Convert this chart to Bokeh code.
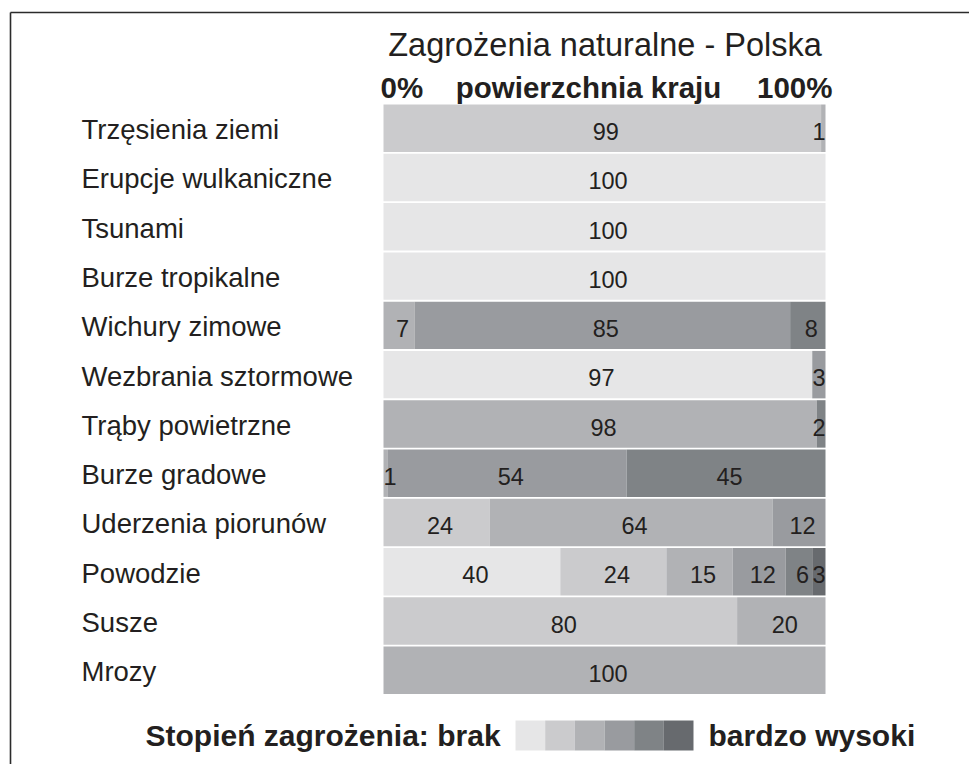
from bokeh.plotting import figure
from bokeh.models import ColumnDataSource, Range1d
from bokeh.core.properties import value
from bokeh.embed import file_html
from bokeh.resources import INLINE

# ---------------- data ----------------
hazards = ["Trzęsienia ziemi", "Erupcje wulkaniczne", "Tsunami", "Burze tropikalne",
           "Wichury zimowe", "Wezbrania sztormowe", "Trąby powietrzne", "Burze gradowe",
           "Uderzenia piorunów", "Powodzie", "Susze", "Mrozy"]
# share of country area (%) per threat level: 0 = none ... 5 = very high
level0 = [0, 100, 100, 100, 0, 97, 0, 0, 0, 40, 0, 0]
level1 = [99, 0, 0, 0, 0, 0, 0, 0, 24, 24, 80, 0]
level2 = [1, 0, 0, 0, 7, 0, 98, 1, 64, 15, 20, 100]
level3 = [0, 0, 0, 0, 85, 3, 0, 54, 12, 12, 0, 0]
level4 = [0, 0, 0, 0, 8, 0, 2, 45, 0, 6, 0, 0]
level5 = [0, 0, 0, 0, 0, 0, 0, 0, 0, 3, 0, 0]
levels = [level0, level1, level2, level3, level4, level5]
level_names = ["l0", "l1", "l2", "l3", "l4", "l5"]
colors = ["#e6e6e7", "#cbcbcd", "#b1b2b5", "#999b9f", "#7f8386", "#676a6e"]

title_text = "Zagrożenia naturalne - Polska"
axis_left, axis_mid, axis_right = "0%", "powierzchnia kraju", "100%"
legend_left, legend_right = "Stopień zagrożenia: brak", "bardzo wysoki"

# ---------------- layout ----------------
W, H = 969, 764
OFF = 0                        # figure origin on the page
X0, X100 = 383.0, 825.0        # page x of 0% and 100%
SX = (X100 - X0) / 100.0
ROW0, PITCH = 127.8, 49.27     # page y of first row centre, row pitch
x_start = -(X0 - OFF) / SX
x_end = x_start + W / SX
y_top = -(ROW0 - OFF) / PITCH
y_bot = y_top + H / PITCH
K = 0.33                       # baseline correction (fraction of font size)


def fx(px):
    return x_start + (px - OFF) / SX


def fy(py):
    return y_top + (py - OFF) / PITCH


def base(py, size):
    """page y of wanted baseline -> data y"""
    return fy(py - K * size)


FONT = value("Liberation Sans")
TXT = "#231f20"

p = figure(width=W, height=H, output_backend="svg", toolbar_location=None,
           x_range=Range1d(x_start, x_end), y_range=Range1d(y_bot, y_top),
           min_border=0, background_fill_color="white", border_fill_color="white")
p.axis.visible = False
p.grid.visible = False
p.outline_line_color = None

ys = list(range(len(hazards)))
data = {"y": ys}
for n, lv in zip(level_names, levels):
    data[n] = lv
src = ColumnDataSource(data)
p.hbar_stack(level_names, y="y", height=0.963, color=colors, line_color=None, source=src)

# segment labels
NUM_SIZE = 23.5
cx, cy, ct = [], [], []
rx, ry, rt = [], [], []
lx, ly, lt = [], [], []
num_off = (11.0 - K * NUM_SIZE) / PITCH
for i in ys:
    vals = [lv[i] for lv in levels]
    nz = [k for k, v in enumerate(vals) if v > 0]
    cum = 0
    for k, v in enumerate(vals):
        if v > 0:
            if v < 4 and k == nz[-1] and len(nz) > 1:
                rx.append(cum + v); ry.append(i + num_off); rt.append(str(v))
            elif v < 4 and k == nz[0] and len(nz) > 1:
                lx.append(cum); ly.append(i + num_off); lt.append(str(v))
            else:
                cx.append(cum + v / 2 + 0.8); cy.append(i + num_off); ct.append(str(v))
        cum += v

common = dict(text_font=FONT, text_font_size=f"{NUM_SIZE}px", text_color=TXT,
              text_baseline="alphabetic")
p.text(x=cx, y=cy, text=ct, text_align="center", **common)
p.text(x=rx, y=ry, text=rt, text_align="right", **common)
p.text(x=lx, y=ly, text=lt, text_align="left", **common)

# row labels
LAB_SIZE = 27.5
p.text(x=[fx(81)] * len(hazards), y=[i + (10.5 - K * LAB_SIZE) / PITCH for i in ys],
       text=hazards, text_font=FONT, text_font_size=f"{LAB_SIZE}px", text_color=TXT,
       text_baseline="alphabetic", text_align="left")

# title
p.text(x=[fx(604.5)], y=[base(55, 32.5)], text=[title_text], text_font=FONT,
       text_font_size="32.5px", text_color=TXT, text_baseline="alphabetic",
       text_align="center")
# header over the bars
hdr = dict(text_font=FONT, text_font_size="29.5px", text_font_style="bold",
           text_color=TXT, text_baseline="alphabetic")
p.text(x=[fx(380)], y=[base(96.5, 29.5)], text=[axis_left], text_align="left", **hdr)
p.text(x=[fx(588)], y=[base(96.5, 29.5)], text=[axis_mid], text_align="center", **hdr)
p.text(x=[fx(832)], y=[base(96.5, 29.5)], text=[axis_right], text_align="right", **hdr)

# legend
leg = dict(text_font=FONT, text_font_size="30px", text_font_style="bold",
           text_color=TXT, text_baseline="alphabetic")
p.text(x=[fx(145)], y=[base(745, 30)], text=[legend_left], text_align="left", **leg)
p.text(x=[fx(708)], y=[base(745, 30)], text=[legend_right], text_align="left", **leg)
sw_l, sw_w = 515.0, (693.0 - 515.0) / len(colors)
p.quad(left=[fx(sw_l + k * sw_w) for k in range(len(colors))],
       right=[fx(sw_l + (k + 1) * sw_w) for k in range(len(colors))],
       top=[fy(720)] * len(colors), bottom=[fy(750)] * len(colors),
       color=colors, line_color=None)

# frame (top and left edges)
p.segment(x0=[fx(10), fx(10)], y0=[fy(12), fy(12)], x1=[fx(975), fx(10)],
          y1=[fy(12), fy(770)], line_color="#2b2b2b", line_width=1.6)

open("out.html", "w").write(file_html(p, INLINE))
